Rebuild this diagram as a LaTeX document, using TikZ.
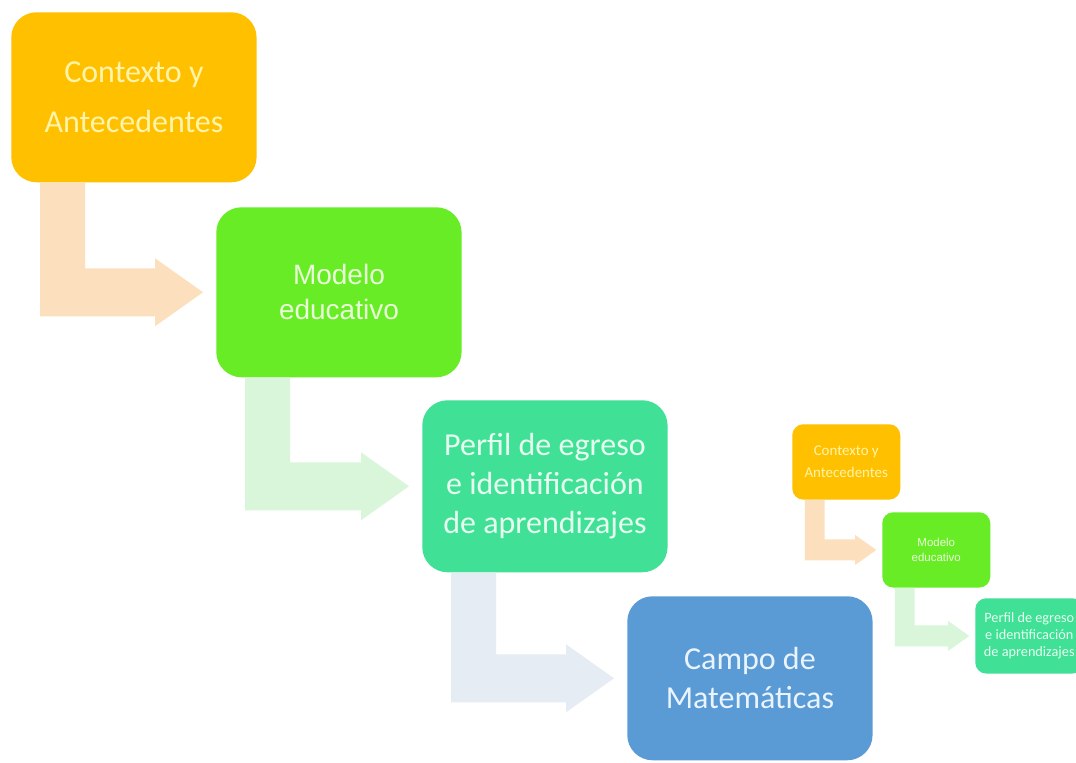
\documentclass[tikz,border=0pt]{standalone}
\usepackage{fontspec}
\setmainfont{Carlito}
\newfontfamily\arialfont{Liberation Sans}
\usetikzlibrary{calc}

\definecolor{cOrange}{RGB}{255,192,0}
\definecolor{cGreen}{RGB}{104,236,38}
\definecolor{cTeal}{RGB}{64,224,150}
\definecolor{cBlue}{RGB}{91,155,213}
\definecolor{aOrange}{RGB}{252,224,190}
\definecolor{aGreen}{RGB}{218,246,218}
\definecolor{aBlue}{RGB}{230,236,244}
\definecolor{tYellow}{RGB}{255,244,170}
\definecolor{tGreen}{RGB}{232,255,216}
\definecolor{tTeal}{RGB}{230,255,240}
\definecolor{tBlue}{RGB}{234,244,255}

% bent block arrow from the bottom of box #1 to the left side of box #2,
% colour #3, size factor #4
\newcommand\bentarrow[4]{%
  \coordinate (#1#2top) at ($(#1.south west)+(29*#4,0)$);
  \coordinate (#1#2tip) at ($(#2.west)+(-13*#4,0)$);
  \fill[#3] (#1#2top)
    -- ($(#1#2top |- #1#2tip)+(0,24*#4)$)
    -- ($(#1#2tip)+(-48*#4,24*#4)$)
    -- ($(#1#2tip)+(-48*#4,34*#4)$)
    -- (#1#2tip)
    -- ($(#1#2tip)+(-48*#4,-34*#4)$)
    -- ($(#1#2tip)+(-48*#4,-24*#4)$)
    -- ($(#1#2top |- #1#2tip)+(45*#4,-24*#4)$)
    -- ($(#1#2top)+(45*#4,0)$)
    -- cycle;
}

\tikzset{
  stage/.style={rounded corners=19pt, anchor=north west, inner sep=0pt,
    align=center, minimum width=184pt, minimum height=127.5pt},
  mini/.style={rounded corners=8.3pt, anchor=north west, inner sep=0pt,
    align=center, minimum width=81pt, minimum height=56.5pt},
}

\begin{document}
\begin{tikzpicture}[x=0.75pt,y=-0.75pt]
\useasboundingbox (0,0) rectangle (1076,763);
\clip (0,0) rectangle (1076,763);
\fill[white] (0,0) rectangle (1076,763);

% main sequence
\node[stage, fill=cOrange, text=tYellow,
      font=\fontsize{24pt}{37.5pt}\selectfont] (a) at (11,12)
  {Contexto y\\Antecedentes};
\node[stage, fill=cGreen, text=tGreen,
      font=\arialfont\fontsize{21pt}{26pt}\selectfont] (b) at (216,207)
  {Modelo\\educativo};
\node[stage, fill=cTeal, text=tTeal, minimum height=129pt,
      font=\fontsize{24pt}{29.5pt}\selectfont] (c) at (422,400)
  {Perfil de egreso\\e identificación\\de aprendizajes};
\node[stage, fill=cBlue, text=tBlue, minimum height=123pt,
      font=\fontsize{24pt}{29pt}\selectfont] (d) at (627,596)
  {Campo de\\Matemáticas};

\bentarrow{a}{b}{aOrange}{1}
\bentarrow{b}{c}{aGreen}{1}
\bentarrow{c}{d}{aBlue}{1}

% reduced copy of the first three stages
\node[mini, fill=cOrange, text=tYellow,
      font=\fontsize{11.2pt}{16.5pt}\selectfont] (sa) at (792,424)
  {Contexto y\\Antecedentes};
\node[mini, fill=cGreen, text=tGreen,
      font=\arialfont\fontsize{8.6pt}{11.4pt}\selectfont] (sb) at (882,512)
  {Modelo\\educativo};
\node[mini, fill=cTeal, text=tTeal,
      font=\fontsize{10.7pt}{13pt}\selectfont] (sc) at (975,598)
  {Perfil de egreso\\e identificación\\de aprendizajes};

\bentarrow{sa}{sb}{aOrange}{0.44}
\bentarrow{sb}{sc}{aGreen}{0.44}
\end{tikzpicture}
\end{document}
